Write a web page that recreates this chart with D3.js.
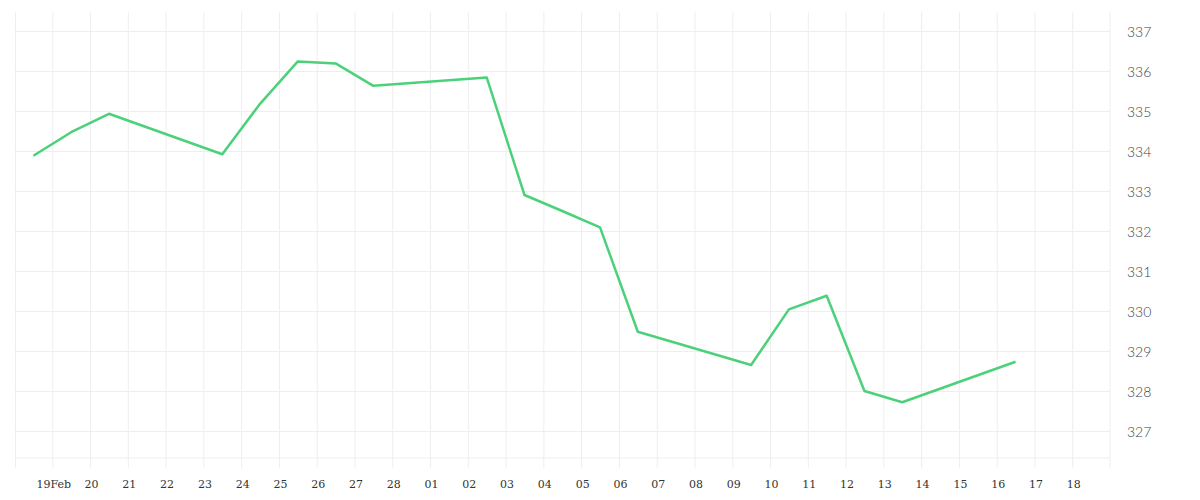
<!DOCTYPE html>
<html>
<head>
<meta charset="utf-8">
<script src="https://cdn.jsdelivr.net/npm/d3@7"></script>
<style>
  body { margin: 0; background: #fff; }
  svg { display: block; }
</style>
</head>
<body>
<svg id="chart"></svg>
<script>
// trading days (month is 1-based here), closing value at midday
const days = [
  [2, 18], [2, 19], [2, 20], [2, 23], [2, 24], [2, 25], [2, 26], [2, 27],
  [3, 2], [3, 3], [3, 4], [3, 5], [3, 6], [3, 9], [3, 10], [3, 11],
  [3, 12], [3, 13], [3, 16]
];
const values = [
  333.88, 334.47, 334.93, 333.92, 335.18, 336.24, 336.19, 335.63,
  335.84, 332.90, 332.50, 332.09, 329.48, 328.65, 330.04, 330.38,
  328.00, 327.72, 328.73
];
const yTicks = [327, 328, 329, 330, 331, 332, 333, 334, 335, 336, 337];
const xTickDays = [
  [2, 19], [2, 20], [2, 21], [2, 22], [2, 23], [2, 24], [2, 25], [2, 26], [2, 27], [2, 28],
  [3, 1], [3, 2], [3, 3], [3, 4], [3, 5], [3, 6], [3, 7], [3, 8], [3, 9], [3, 10],
  [3, 11], [3, 12], [3, 13], [3, 14], [3, 15], [3, 16], [3, 17], [3, 18]
];
const xTickLabels = [
  '19Feb', '20', '21', '22', '23', '24', '25', '26', '27', '28',
  '01', '02', '03', '04', '05', '06', '07', '08', '09', '10',
  '11', '12', '13', '14', '15', '16', '17', '18'
];

const width = 1200;
const height = 500;
// plot box
const plotLeft = 14.5, plotRight = 1110, plotTop = 12, plotBottom = 458;
const year = 2026;

const svg = d3.select('#chart').attr('width', width).attr('height', height);

const points = days.map((d, i) => ({
  date: new Date(year, d[0] - 1, d[1], 12),
  value: values[i]
}));
const tickDates = xTickDays.map(d => new Date(year, d[0] - 1, d[1]));

const xScale = d3.scaleTime()
  .domain([new Date(year, 1, 18), new Date(year, 2, 19)])
  .range([plotLeft, plotRight]);
const yScale = d3.scaleLinear()
  .domain([337, 327])
  .range([31, 431]);

// horizontal grid
const yAxis = d3.axisRight(yScale)
  .tickValues(yTicks)
  .tickSize(-(plotRight - plotLeft))
  .tickFormat(d3.format('d'));
const gy = svg.append('g')
  .attr('transform', 'translate(' + plotRight + ',0)')
  .call(yAxis);
gy.select('.domain').remove();
gy.selectAll('.tick line').attr('stroke', '#eeeeee');
gy.selectAll('.tick text')
  .attr('x', 17)
  .attr('dy', '0.42em')
  .attr('fill', '#444')
  .style('font-family', 'Lato, sans-serif')
  .style('font-weight', 300)
  .style('font-size', '14px');

// vertical grid + date labels
const xAxis = d3.axisBottom(xScale)
  .tickValues(tickDates)
  .tickSize(-(plotBottom - plotTop))
  .tickFormat((d, i) => xTickLabels[i]);
const gx = svg.append('g')
  .attr('transform', 'translate(0,' + plotBottom + ')')
  .call(xAxis);
gx.select('.domain').remove();
gx.selectAll('.tick line')
  .attr('stroke', '#eeeeee')
  .attr('y1', 10);
gx.selectAll('.tick text')
  .attr('y', 30)
  .attr('dy', 0)
  .attr('dx', 1)
  .attr('fill', '#333')
  .style('font-family', '"DejaVu Serif", serif')
  .style('font-size', '11px');

// borders
svg.append('line')
  .attr('x1', plotLeft + 1).attr('x2', plotLeft + 1)
  .attr('y1', plotTop).attr('y2', plotBottom + 10)
  .attr('stroke', '#eeeeee');
svg.append('line')
  .attr('x1', plotRight).attr('x2', plotRight)
  .attr('y1', plotTop).attr('y2', plotBottom + 10)
  .attr('stroke', '#eeeeee');
svg.append('line')
  .attr('x1', plotLeft + 1).attr('x2', plotRight)
  .attr('y1', plotBottom).attr('y2', plotBottom)
  .attr('stroke', '#eeeeee');

// price line
const line = d3.line()
  .x(d => xScale(d.date))
  .y(d => yScale(d.value));
svg.append('path')
  .datum(points)
  .attr('d', line)
  .attr('fill', 'none')
  .attr('stroke', '#4cd17b')
  .attr('stroke-width', 2.5)
  .attr('stroke-linejoin', 'round');
</script>
</body>
</html>
